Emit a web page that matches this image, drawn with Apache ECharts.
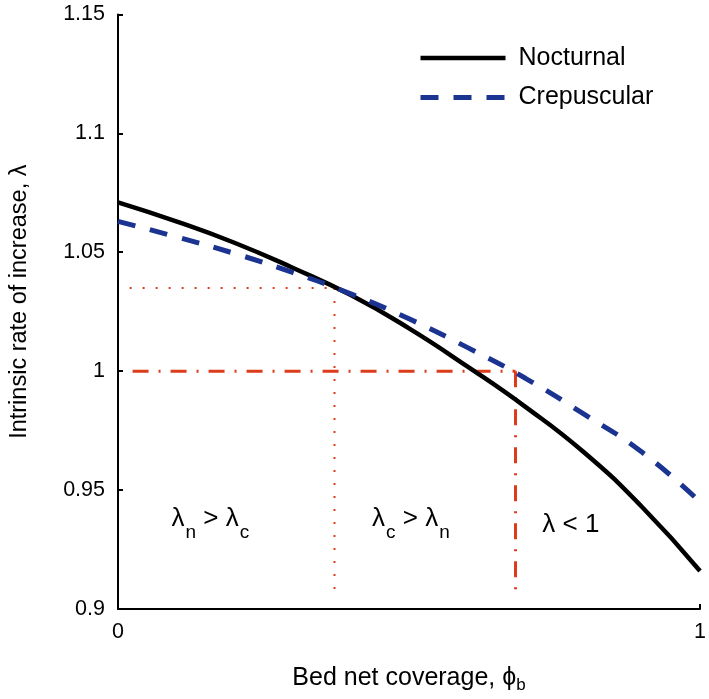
<!DOCTYPE html>
<html>
<head>
<meta charset="utf-8">
<script src="https://cdn.jsdelivr.net/npm/echarts@6/dist/echarts.min.js"></script>
<style>html,body{margin:0;padding:0;background:#fff;}#c{width:709px;height:699px;}</style>
</head>
<body>
<div id="c"></div>
<script>
// ---- data ----
const coverage = [0, 0.1, 0.2, 0.3, 0.4, 0.5, 0.6, 0.7, 0.8, 0.9, 1.0];
const nocturnal = [1.071, 1.063, 1.054, 1.0435, 1.032, 1.018, 1.002, 0.985, 0.966, 0.943, 0.916];
const crepuscular = [1.063, 1.0565, 1.0495, 1.0415, 1.0325, 1.022, 1.010, 0.997, 0.982, 0.966, 0.945];
const seriesNames = ['Nocturnal', 'Crepuscular'];
// red guide lines: [x, y] end points
const dottedH = [[0.02, 1.035], [0.372, 1.035]];
const dottedV = [[0.372, 1.035], [0.372, 0.907]];
const dashDotH = [[0.025, 1.0], [0.683, 1.0]];
const dashDotV = [[0.683, 1.0], [0.683, 0.905]];
// region annotations
const annotX = [0.092, 0.4365, 0.729];
const annotY = [0.9434, 0.9434, 0.9409];
const annotText = ['{l|λ}{s|n}{l| > λ}{s|c}', '{l|λ}{s|c}{l| > λ}{s|n}', '{l|λ < 1}'];
const yTicks = {min: 0.9, max: 1.15, interval: 0.05};
const xTicks = {min: 0, max: 1, interval: 1};

const FONT = '"Liberation Sans", Arial, Helvetica, sans-serif';
const RED = '#dc3c1a';
const BLUE = '#1b3391';
const pairs = (xs, ys) => xs.map((x, i) => [x, ys[i]]);

const chart = echarts.init(document.getElementById('c'), null, {renderer: 'canvas'});
const option = {
  animation: false,
  backgroundColor: '#fff',
  grid: {left: 103, right: 8, top: 14.4, bottom: 87.3, containLabel: false},
  legend: {
    data: seriesNames,
    orient: 'vertical',
    left: 413, top: 38,
    itemWidth: 85, itemHeight: 14, itemGap: 9.4,
    itemStyle: {opacity: 0},
    lineStyle: {width: 'inherit'},
    textStyle: {fontFamily: FONT, fontSize: 25, color: '#000', lineHeight: 30, padding: [0, 0, 0, 8]}
  },
  xAxis: {
    type: 'value', min: xTicks.min, max: xTicks.max, interval: xTicks.interval,
    name: 'Bed net coverage, {phi|ϕ}{sub|b}', nameLocation: 'middle', nameGap: 54,
    nameTextStyle: {fontFamily: FONT, fontSize: 25, color: '#000',
      rich: {phi: {fontFamily: FONT, fontSize: 25, color: '#000'}, sub: {fontFamily: FONT, fontSize: 17, color: '#000', padding: [14, 0, 0, 0]}}},
    axisLine: {show: true, onZero: false, lineStyle: {color: '#000', width: 2}},
    axisTick: {show: true, inside: true, length: 5, lineStyle: {color: '#000', width: 2}},
    axisLabel: {fontFamily: FONT, fontSize: 21.5, color: '#000', margin: 12},
    splitLine: {show: false}
  },
  yAxis: {
    type: 'value', min: yTicks.min, max: yTicks.max, interval: yTicks.interval,
    name: 'Intrinsic rate of increase, λ', nameLocation: 'middle', nameGap: 86, nameRotate: 90,
    nameTextStyle: {fontFamily: FONT, fontSize: 23.5, color: '#000', padding: [0, 0, 0, 20]},
    axisLine: {show: true, onZero: false, lineStyle: {color: '#000', width: 2}},
    axisTick: {show: true, inside: true, length: 5, lineStyle: {color: '#000', width: 2}},
    axisLabel: {fontFamily: FONT, fontSize: 21.5, color: '#000', margin: 13},
    splitLine: {show: false}
  },
  series: [
    {type: 'line', name: 'guide1', data: dottedH, symbol: 'none', silent: true, z: 1,
     lineStyle: {color: RED, width: 2, type: [2, 11]}},
    {type: 'line', name: 'guide2', data: dottedV, symbol: 'none', silent: true, z: 1,
     lineStyle: {color: RED, width: 2, type: [2, 11]}},
    {type: 'line', name: 'guide3', data: dashDotH, symbol: 'none', silent: true, z: 1,
     lineStyle: {color: RED, width: 3, type: [16, 10, 2, 10]}},
    {type: 'line', name: 'guide4', data: dashDotV, symbol: 'none', silent: true, z: 1,
     lineStyle: {color: RED, width: 3, type: [16, 10, 2, 10]}},
    {type: 'line', name: seriesNames[0], data: pairs(coverage, nocturnal), smooth: 0.5, symbol: 'none', z: 3,
     color: '#000', lineStyle: {color: '#000', width: 4.5}},
    {type: 'line', name: seriesNames[1], data: pairs(coverage, crepuscular), smooth: 0.5, symbol: 'none', z: 4,
     color: BLUE, lineStyle: {color: BLUE, width: 5, type: [18, 15]}},
    {type: 'scatter', name: 'annot', symbolSize: 0, silent: true, z: 5,
     itemStyle: {opacity: 1, color: '#000'},
     data: annotX.map((x, i) => ({value: [x, annotY[i]], label: {formatter: annotText[i]}})),
     label: {show: true, position: [0, 0], align: 'left', verticalAlign: 'top', color: '#000', opacity: 1,
       rich: {
         l: {fontFamily: FONT, fontSize: 26, color: '#000', lineHeight: 26, verticalAlign: 'top'},
         s: {fontFamily: FONT, fontSize: 19, color: '#000', lineHeight: 19, verticalAlign: 'top', padding: [17, 0, 0, 1]}
       }}}
  ]
};
chart.setOption(option);
</script>
</body>
</html>
